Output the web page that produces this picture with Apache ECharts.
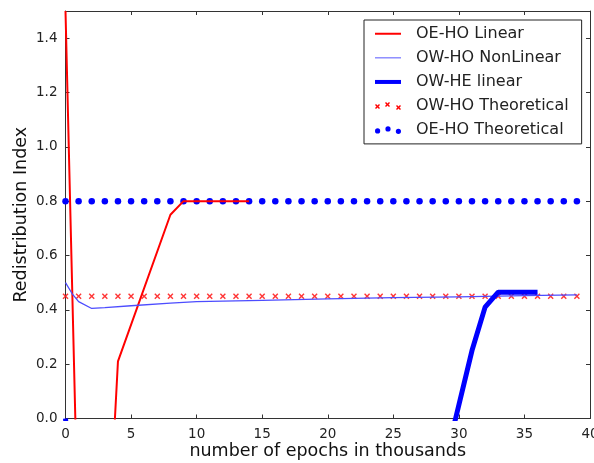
<!DOCTYPE html>
<html>
<head>
<meta charset="utf-8">
<script src="https://cdn.jsdelivr.net/npm/echarts@6/dist/echarts.min.js"></script>
<style>
html,body{margin:0;padding:0;background:#fff;}
#chart{width:594px;height:463px;}
</style>
</head>
<body>
<div id="chart"></div>
<script>
// ---- data ----
var seriesNames = ['OE-HO Linear', 'OW-HO NonLinear', 'OW-HE linear', 'OW-HO Theoretical', 'OE-HO Theoretical'];

var oeHoLinearX = [0, 1, 3, 4, 8, 9, 14];
var oeHoLinearY = [1.5, -0.5, -0.7, 0.21, 0.75, 0.8, 0.8];

var owHoNonLinearX = [0, 0.5, 1, 2, 3, 5, 8, 10, 15, 20, 25, 30, 35, 39];
var owHoNonLinearY = [0.5, 0.46, 0.43, 0.405, 0.408, 0.415, 0.425, 0.43, 0.435, 0.44, 0.445, 0.448, 0.452, 0.455];

var owHeLinearX = [0, 1, 28, 29, 29.75, 31, 32, 33, 36];
var owHeLinearY = [0, -0.5, -0.5, -0.15, 0, 0.25, 0.41, 0.465, 0.465];

var theoreticalX = [0, 1, 2, 3, 4, 5, 6, 7, 8, 9, 10, 11, 12, 13, 14, 15, 16, 17, 18, 19,
                    20, 21, 22, 23, 24, 25, 26, 27, 28, 29, 30, 31, 32, 33, 34, 35, 36, 37, 38, 39];
var owHoTheoreticalValue = 0.45;
var oeHoTheoreticalValue = 0.8;

var xTicks = [0, 5, 10, 15, 20, 25, 30, 35, 40];
var yTicks = [0.0, 0.2, 0.4, 0.6, 0.8, 1.0, 1.2, 1.4];

// ---- build ----
function zip(xs, ys) { return xs.map(function (x, i) { return [x, ys[i]]; }); }
function constant(xs, v) { return xs.map(function (x) { return [x, v]; }); }

var FONT = 'DejaVu Sans';
var AX = '#333';
var xCross = 'path://M0,1 L1,0 L3,2 L5,0 L6,1 L4,3 L6,5 L5,6 L3,4 L1,6 L0,5 L2,3 Z';

var chart = echarts.init(document.getElementById('chart'), null, {renderer: 'canvas'});

function xAxisCommon(pos, showLabel) {
  return {
    type: 'value', position: pos, min: xTicks[0], max: xTicks[xTicks.length - 1], interval: 5,
    axisLine: {show: true, onZero: false, lineStyle: {color: AX, width: 1}},
    axisTick: {show: true, inside: true, length: 4, lineStyle: {color: AX}},
    axisLabel: {show: showLabel, margin: 9, color: '#222', fontFamily: FONT, fontSize: 13.5},
    splitLine: {show: false}
  };
}
function yAxisCommon(pos, showLabel) {
  return {
    type: 'value', position: pos, min: yTicks[0], max: 1.5, interval: 0.2,
    axisLine: {show: true, onZero: false, lineStyle: {color: AX, width: 1}},
    axisTick: {show: true, inside: true, length: 4, lineStyle: {color: AX}},
    axisLabel: {show: showLabel, margin: 8, color: '#222', fontFamily: FONT, fontSize: 13.5,
      showMaxLabel: false, formatter: function (v) { return v.toFixed(1); }},
    splitLine: {show: false}
  };
}

var xa = xAxisCommon('bottom', true);
xa.name = 'number of epochs in thousands';
xa.nameLocation = 'middle';
xa.nameGap = 24;
xa.nameMoveOverlap = false;
xa.nameTextStyle = {color: '#111', fontFamily: FONT, fontSize: 17.5, verticalAlign: 'top'};
var ya = yAxisCommon('left', true);
ya.name = 'Redistribution Index';
ya.nameLocation = 'middle';
ya.nameGap = 35;
ya.nameMoveOverlap = false;
ya.nameTextStyle = {color: '#111', fontFamily: FONT, fontSize: 17.5};

var option = {
  backgroundColor: '#fff',
  animation: false,
  grid: {left: 65.5, right: 4, top: 11, bottom: 44.5, containLabel: false, outerBoundsMode: 'none'},
  xAxis: [xa, xAxisCommon('top', false)],
  yAxis: [ya, yAxisCommon('right', false)],
  legend: {
    orient: 'vertical', left: 364, top: 20,
    backgroundColor: '#fff', borderColor: '#222', borderWidth: 1, borderRadius: 0,
    padding: [5, 13, 5, 11],
    itemWidth: 26, itemHeight: 8, itemGap: 6.6,
    symbolKeepAspect: true,
    textStyle: {color: '#222', fontFamily: FONT, fontSize: 16, lineHeight: 17.5, padding: [0, 0, 0, 10]},
    data: [
      {name: seriesNames[0], icon: 'path://M0,0 H26 V2 H0 Z', itemStyle: {color: '#ff0000', borderWidth: 0}},
      {name: seriesNames[1], icon: 'path://M0,0 H26 V1 H0 Z', itemStyle: {color: '#5555ff', borderWidth: 0}},
      {name: seriesNames[2], icon: 'path://M0,0 H26 V4 H0 Z', itemStyle: {color: '#0000ff', borderWidth: 0}},
      {name: seriesNames[3], icon: 'path://M0,3 L1,2 L2.5,3.5 L4,2 L5,3 L3.5,4.5 L5,6 L4,7 L2.5,5.5 L1,7 L0,6 L1.5,4.5 Z M10,1 L11,0 L12.5,1.5 L14,0 L15,1 L13.5,2.5 L15,4 L14,5 L12.5,3.5 L11,5 L10,4 L11.5,2.5 Z M21,4 L22,3 L23.5,4.5 L25,3 L26,4 L24.5,5.5 L26,7 L25,8 L23.5,6.5 L22,8 L21,7 L22.5,5.5 Z', itemStyle: {color: '#ff0000', borderWidth: 0, opacity: 1}},
      {name: seriesNames[4], icon: 'path://M0,5 A2.6,2.6 0 1 0 5.2,5 A2.6,2.6 0 1 0 0,5 Z M10.4,3 A2.6,2.6 0 1 0 15.6,3 A2.6,2.6 0 1 0 10.4,3 Z M20.8,5.4 A2.6,2.6 0 1 0 26,5.4 A2.6,2.6 0 1 0 20.8,5.4 Z', itemStyle: {color: '#0000ff', borderWidth: 0, opacity: 1}}
    ]
  },
  series: [
    {
      name: seriesNames[3], type: 'scatter', z: 1,
      data: constant(theoreticalX, owHoTheoreticalValue),
      symbol: xCross, symbolSize: 6,
      itemStyle: {color: '#ff2020', borderWidth: 0, opacity: 0.9}
    },
    {
      name: seriesNames[4], type: 'scatter', z: 1,
      data: constant(theoreticalX, oeHoTheoreticalValue),
      symbol: 'circle', symbolSize: 6.5,
      itemStyle: {color: '#0000ff', borderWidth: 0, opacity: 1}
    },
    {
      name: seriesNames[0], type: 'line', z: 3, clip: true,
      data: zip(oeHoLinearX, oeHoLinearY),
      symbol: 'none', lineStyle: {color: '#ff0000', width: 2},
      itemStyle: {color: '#ff0000'}
    },
    {
      name: seriesNames[1], type: 'line', z: 3, clip: true,
      data: zip(owHoNonLinearX, owHoNonLinearY),
      symbol: 'none', lineStyle: {color: '#4d4dff', width: 1.3},
      itemStyle: {color: '#4d4dff'}
    },
    {
      name: seriesNames[2], type: 'line', z: 3, clip: true,
      data: zip(owHeLinearX, owHeLinearY),
      symbol: 'none', lineStyle: {color: '#0000ff', width: 5},
      itemStyle: {color: '#0000ff'}
    }
  ]
};
chart.setOption(option);
</script>
</body>
</html>
